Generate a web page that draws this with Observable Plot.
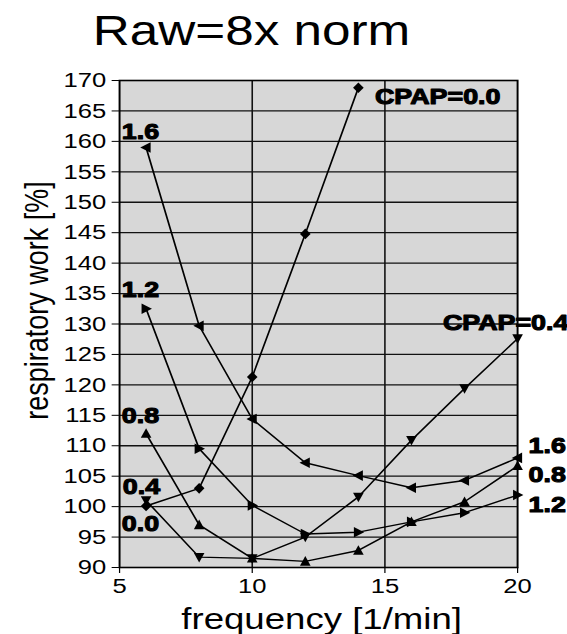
<!DOCTYPE html>
<html><head><meta charset="utf-8">
<script src="https://cdn.jsdelivr.net/npm/d3@7"></script>
<script src="https://cdn.jsdelivr.net/npm/@observablehq/plot@0.6"></script>
<style>
html,body{margin:0;padding:0;background:#fff;overflow:hidden;}
#wrap{position:relative;width:464.75px;height:634px;transform:scaleX(1.22);transform-origin:0 0;font-family:"Liberation Sans",Arial,sans-serif;}
#title{position:absolute;left:76px;top:10px;font-size:42px;line-height:42px;white-space:nowrap;color:#000;}
#chart{position:absolute;left:0;top:60px;}
</style></head><body>
<div id="wrap"><div id="title">Raw=8x norm</div><div id="chart"></div></div>
<script>
// data
const frequency = [6, 8, 10, 12, 14, 16, 18, 20];
const cpap00 = [100.1, 103.0, 121.3, 144.8, 168.8];
const cpap04 = [101.0, 91.7, 91.5, 95.0, 101.6, 110.9, 119.4, 127.6];
const cpap08 = [112.0, 97.0, 91.5, 91.0, 92.8, 97.5, 100.8, 106.7];
const cpap12 = [132.5, 109.5, 100.2, 95.5, 95.8, 97.5, 99.0, 101.9];
const cpap16 = [159.0, 129.7, 114.4, 107.2, 105.1, 103.1, 104.3, 108.0];
const xTicks = [5, 10, 15, 20];
const yTicks = [90, 95, 100, 105, 110, 115, 120, 125, 130, 135, 140, 145, 150, 155, 160, 165, 170];

const toRows = vals => vals.map((v, i) => ({f: frequency[i], w: v}));
const pt = (vals, i) => { const j = i < 0 ? vals.length + i : i; return [{f: frequency[j], w: vals[j]}]; };

// custom marker shapes
const poly = pts => ({draw(ctx, size) {
  const r = Math.sqrt(size / Math.PI);
  ctx.moveTo(pts[0][0] * r, pts[0][1] * r);
  for (let k = 1; k < pts.length; ++k) ctx.lineTo(pts[k][0] * r, pts[k][1] * r);
  ctx.closePath();
}});
const diamond = poly([[0, -1], [0.82, 0], [0, 1], [-0.82, 0]]);
const triUp = poly([[0, -1], [0.82, 0.8], [-0.82, 0.8]]);
const triDown = poly([[0, 1], [0.82, -0.8], [-0.82, -0.8]]);
const triLeft = poly([[-0.9, 0], [0.7, -1], [0.7, 1]]);
const triRight = poly([[0.9, 0], [-0.7, -1], [-0.7, 1]]);

const series = [
  [cpap00, diamond], [cpap04, triDown], [cpap08, triUp], [cpap12, triRight], [cpap16, triLeft]
];

const lbl = (vals, i, txt, opts) => Plot.text(pt(vals, i), {
  x: "f", y: "w", text: () => txt, fontSize: 22, fontWeight: "bold",
  fill: "black", stroke: "black", strokeWidth: 1.1, lineAnchor: "middle", ...opts
});

const marks = [
  Plot.frame({fill: "#d7d7d7"}),
  Plot.gridY(yTicks.slice(1, -1), {stroke: "#111", strokeOpacity: 1, strokeWidth: 1.3}),
  Plot.gridX(xTicks.slice(1, -1), {stroke: "#111", strokeOpacity: 1, strokeWidth: 1.3}),
  Plot.frame({stroke: "#000", strokeWidth: 1.6}),
  Plot.axisY(yTicks, {tickSize: 6, tickPadding: 5, fontSize: 21, label: null, stroke: "#000"}),
  Plot.axisX(xTicks, {tickSize: 6, tickPadding: 5, fontSize: 21, label: null, stroke: "#000"}),
];
for (const [vals, sym] of series) {
  marks.push(Plot.line(toRows(vals), {x: "f", y: "w", stroke: "#000", strokeWidth: 1.4}));
  marks.push(Plot.dot(toRows(vals), {x: "f", y: "w", symbol: sym, r: 5.3, fill: "#000", stroke: "none"}));
}
marks.push(
  lbl(cpap00, -1, "CPAP=0.0", {textAnchor: "start", dx: 13.6, dy: 9}),
  lbl(cpap16, 0, "1.6", {textAnchor: "middle", dx: -4.6, dy: -15.5}),
  lbl(cpap12, 0, "1.2", {textAnchor: "middle", dx: -4.6, dy: -18.4}),
  lbl(cpap08, 0, "0.8", {textAnchor: "middle", dx: -4.6, dy: -17.7}),
  lbl(cpap04, 0, "0.4", {textAnchor: "middle", dx: -3.8, dy: -13.7}),
  lbl(cpap00, 0, "0.0", {textAnchor: "middle", dx: -4.6, dy: 17.8}),
  lbl(cpap04, -1, "CPAP=0.4", {textAnchor: "middle", dx: -9.8, dy: -15.6}),
  lbl(cpap16, -1, "1.6", {textAnchor: "start", dx: 9, dy: -12}),
  lbl(cpap08, -1, "0.8", {textAnchor: "start", dx: 9, dy: 9}),
  lbl(cpap12, -1, "1.2", {textAnchor: "start", dx: 9, dy: 9.8}),
  Plot.text(["frequency [1/min]"], {text: d => d, frameAnchor: "bottom", lineAnchor: "bottom", dy: 61, dx: 2.5, fontSize: 30, fill: "#000"}),
  Plot.text(["respiratory work [%]"], {text: d => d, frameAnchor: "left", rotate: -90, lineAnchor: "bottom", textAnchor: "middle", dx: -59, dy: -23.5, fontSize: 27, fill: "#000"})
);

const chart = Plot.plot({
  width: 464.75,
  height: 574,
  marginTop: 20,
  marginBottom: 67,
  marginLeft: 97.5,
  marginRight: 41,
  x: {domain: [5, 20]},
  y: {domain: [90, 170]},
  style: {fontFamily: "'Liberation Sans', Arial, sans-serif", color: "#000", background: "transparent", overflow: "visible"},
  marks
});
document.getElementById("chart").appendChild(chart);
</script>
</body></html>
